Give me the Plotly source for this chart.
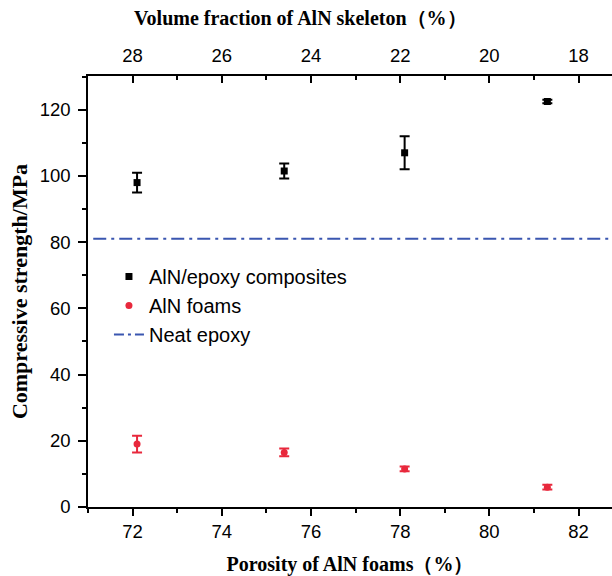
import plotly.graph_objects as go

porosity = [72.1, 75.4, 78.1, 81.3]
composite_strength = [98.0, 101.5, 107.0, 122.5]
composite_err = [3.0, 2.3, 5.0, 0.5]
foam_strength = [19.0, 16.5, 11.5, 6.0]
foam_err = [2.5, 1.2, 0.7, 0.7]
neat_epoxy = 81.0
x_range = [71.0, 82.75]

serif = "Liberation Serif, Times New Roman, serif"
sans = "Liberation Sans, Arial, sans-serif"
blue = "#3a56b0"
dashpat = "13px,5px,3px,5px"

fig = go.Figure()
fig.add_trace(go.Scatter(
    x=porosity, y=composite_strength, mode="markers", name="AlN/epoxy composites",
    marker=dict(symbol="square", size=7, color="black"),
    error_y=dict(type="data", array=composite_err, color="black", thickness=2, width=5),
))
fig.add_trace(go.Scatter(
    x=porosity, y=foam_strength, mode="markers", name="AlN foams",
    marker=dict(symbol="circle", size=7, color="#e8283c"),
    error_y=dict(type="data", array=foam_err, color="#e8283c", thickness=2, width=5),
))
# legend entry for neat epoxy (line drawn as a shape across the full width)
fig.add_trace(go.Scatter(
    x=[None], y=[None], mode="lines", name="Neat epoxy",
    line=dict(color=blue, width=2, dash="10px,4px,3px,4px"),
))
fig.add_shape(type="line", xref="x domain", yref="y", x0=0.01, x1=1, y0=neat_epoxy, y1=neat_epoxy,
              line=dict(color=blue, width=2, dash=dashpat))
# invisible trace for top axis
fig.add_trace(go.Scatter(
    x=[100 - v for v in porosity], y=composite_strength, xaxis="x2", mode="markers",
    marker=dict(opacity=0), showlegend=False, hoverinfo="skip",
))

fig.add_annotation(text="<b>Volume fraction of AlN skeleton（%）</b>", xref="paper", yref="paper",
                   x=0.406, y=1.135, xanchor="center", yanchor="middle", showarrow=False,
                   font=dict(family=serif, size=20, color="black"))

fig.update_layout(
    width=612, height=576,
    margin=dict(l=88, r=0, t=76, b=69),
    plot_bgcolor="white", paper_bgcolor="white",
    font=dict(family=sans, size=18, color="black"),
    showlegend=True,
    legend=dict(x=0.04, y=0.58, xanchor="left", yanchor="top",
                font=dict(family=sans, size=20, color="black"),
                bgcolor="rgba(0,0,0,0)", itemwidth=30, tracegroupgap=0),
    xaxis=dict(
        range=x_range, dtick=2, tick0=72, showgrid=False, zeroline=False,
        showline=True, linecolor="black", linewidth=1.5,
        ticks="outside", ticklen=7, tickwidth=1.5, tickcolor="black",
        minor=dict(dtick=1, ticks="outside", ticklen=4, tickwidth=1.5, tickcolor="black"),
        tickfont=dict(family=sans, size=18.5),
        title=dict(text="<b>Porosity of AlN foams（%）</b>", font=dict(family=serif, size=20), standoff=18),
    ),
    xaxis2=dict(
        range=[100 - x_range[0], 100 - x_range[1]], overlaying="x", side="top",
        dtick=2, tick0=18, showgrid=False, zeroline=False,
        showline=True, linecolor="black", linewidth=1.5,
        ticks="inside", ticklen=7, tickwidth=1.5, tickcolor="black",
        minor=dict(dtick=1, ticks="inside", ticklen=4, tickwidth=1.5, tickcolor="black"),
        tickfont=dict(family=sans, size=18.5), ticklabelstandoff=5,
    ),
    yaxis=dict(
        range=[0, 130.2], dtick=20, tick0=0, showgrid=False, zeroline=False,
        showline=True, linecolor="black", linewidth=1.5,
        ticks="outside", ticklen=8, tickwidth=1.5, tickcolor="black",
        minor=dict(dtick=10, ticks="outside", ticklen=4, tickwidth=1.5, tickcolor="black"),
        tickfont=dict(family=sans, size=18.5), ticklabelstandoff=4,
        title=dict(text="<b>Compressive strength/MPa</b>", font=dict(family=serif, size=22), standoff=6),
    ),
)

fig.write_html("out.html")
